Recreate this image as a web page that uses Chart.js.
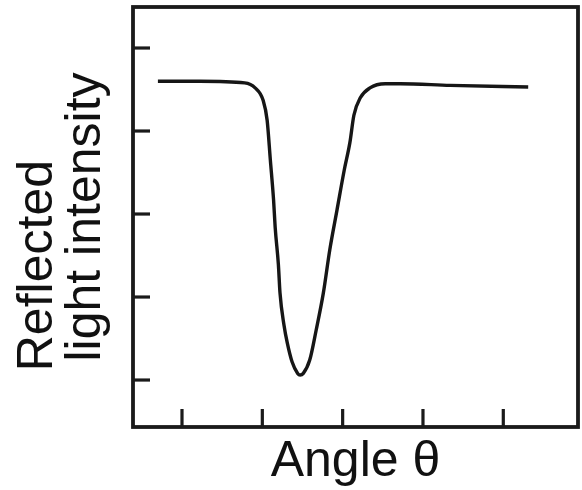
<!DOCTYPE html>
<html>
<head>
<meta charset="utf-8">
<script src="https://cdn.jsdelivr.net/npm/chart.js@4"></script>
<style>
html,body{margin:0;padding:0;background:#fff;}
#wrap{width:582px;height:490px;}
</style>
</head>
<body>
<div id="wrap"><canvas id="c" width="582" height="490"></canvas></div>
<script>
// Data (arbitrary units)
const angles = [0.70, 1.22, 1.78, 1.91, 2.01, 2.06, 2.10, 2.14, 2.16, 2.20, 2.22, 2.27, 2.31, 2.37, 2.44, 2.47, 2.51, 2.59, 2.67, 2.76, 2.84, 2.93, 3.02, 3.09, 3.14, 3.22, 3.34, 3.53, 3.72, 4.34, 5.31];
const intensity = [4.60, 4.60, 4.58, 4.52, 4.37, 4.13, 3.65, 3.17, 2.84, 2.39, 2.05, 1.66, 1.45, 1.22, 1.08, 1.06, 1.08, 1.24, 1.60, 2.05, 2.57, 3.05, 3.53, 3.86, 4.19, 4.40, 4.52, 4.57, 4.57, 4.55, 4.53];
const xTickValues = [1, 2, 3, 4, 5];
const yTickValues = [1, 2, 3, 4, 5];
const xTitle = 'Angle θ';
const yTitle = ['Reflected       ', 'light intensity'];

const points = angles.map((a, i) => ({x: a, y: intensity[i]}));

const frameAndTicks = {
  id: 'frameAndTicks',
  afterDraw(chart) {
    const {ctx, chartArea: ca, scales} = chart;
    ctx.save();
    ctx.strokeStyle = '#1a1a1a';
    ctx.lineWidth = 3.8;
    ctx.lineCap = 'butt';
    ctx.strokeRect(ca.left, ca.top, ca.right - ca.left, ca.bottom - ca.top);
    ctx.lineWidth = 3.2;
    yTickValues.forEach(v => {
      const py = scales.y.getPixelForValue(v);
      ctx.beginPath();
      ctx.moveTo(ca.left, py);
      ctx.lineTo(ca.left + 17, py);
      ctx.stroke();
    });
    xTickValues.forEach(v => {
      const px = scales.x.getPixelForValue(v);
      ctx.beginPath();
      ctx.moveTo(px, ca.bottom);
      ctx.lineTo(px, ca.bottom - 18);
      ctx.stroke();
    });
    ctx.restore();
  }
};

new Chart(document.getElementById('c'), {
  type: 'line',
  data: {
    datasets: [{
      data: points,
      borderColor: '#161616',
      borderWidth: 3.4,
      pointRadius: 0,
      fill: false,
      cubicInterpolationMode: 'monotone'
    }]
  },
  options: {
    responsive: false,
    animation: false,
    devicePixelRatio: 1,
    layout: {padding: {top: 7, right: 4, left: 0, bottom: 0}},
    plugins: {legend: {display: false}, tooltip: {enabled: false}},
    scales: {
      x: {
        type: 'linear',
        min: 0.39,
        max: 5.93,
        grid: {display: false},
        border: {display: false},
        ticks: {display: false},
        title: {
          display: true,
          text: xTitle,
          color: '#111',
          font: {family: '"Liberation Sans", Arial, sans-serif', size: 50, lineHeight: 1.2},
          padding: {top: 0, bottom: -2}
        },
        afterFit(scale) { scale.height = 63; }
      },
      y: {
        type: 'linear',
        min: 0.434,
        max: 5.494,
        grid: {display: false},
        border: {display: false},
        ticks: {display: false},
        title: {
          display: true,
          text: yTitle,
          color: '#111',
          font: {family: '"Liberation Sans", Arial, sans-serif', size: 50, lineHeight: 0.96},
          padding: {top: 14, bottom: 0}
        },
        afterFit(scale) { scale.width = 133; }
      }
    }
  },
  plugins: [frameAndTicks]
});
</script>
</body>
</html>
